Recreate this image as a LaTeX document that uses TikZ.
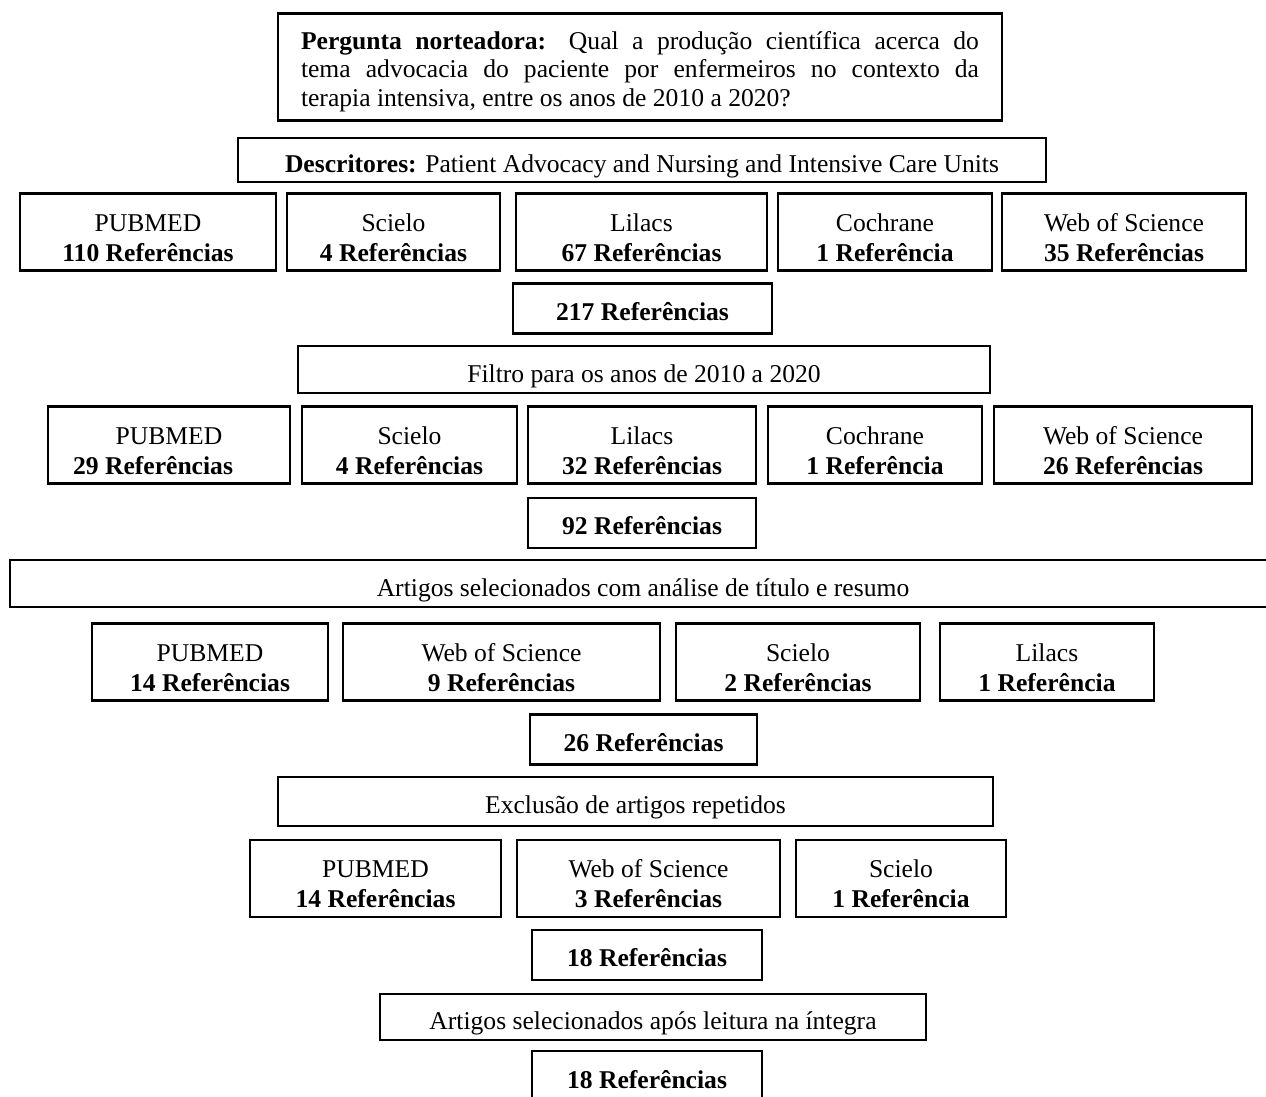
\documentclass[tikz,border=0pt]{standalone}
\usepackage{fontspec}
\setmainfont{Liberation Serif}
\tikzset{
  caixa/.style 2 args={draw, line width=1.2pt, inner sep=0pt, align=center,
    minimum width=#1*0.5pt, minimum height=#2*0.5pt,
    font=\fontsize{12.8}{15}\selectfont},
  fonte/.style={caixa={#1}{77}},
  soma/.style={caixa={#1}{50}, font=\fontsize{12.8}{15}\selectfont\bfseries},
  etapa/.style 2 args={caixa={#1}{#2}},
}
% texto um pouco abaixo do centro da caixa
\newcommand{\duas}[2]{\rule{0pt}{14.5pt}#1\\\textbf{#2}}
\newcommand{\uma}[2][15pt]{\rule{0pt}{#1}#2}

\begin{document}
\begin{tikzpicture}[x=0.5pt, y=-0.5pt]
	\useasboundingbox (0,0) rectangle (1266,1097);

	% pergunta e descritores
	\node[caixa={724}{107}, text width=339pt, align=justify,
		font=\fontsize{12.8}{14.3}\selectfont] (pergunta) at (640,67)
		{\rule{0pt}{13.4pt}\textbf{Pergunta norteadora:} Qual a produção científica acerca do\linebreak
		tema advocacia do paciente por enfermeiros no contexto da\linebreak
		terapia intensiva, entre os anos de 2010 a 2020?};
	\node[etapa={808}{44}] (descritores) at (642,160)
		{\uma[14.8pt]{\textbf{Descritores:} Patient Advocacy and Nursing and Intensive Care Units}};

	% busca inicial
	\node[fonte=256] (pubmedA) at (148,232) {\duas{PUBMED}{110 Referências}};
	\node[fonte=213] (scieloA) at (393.5,232) {\duas{Scielo}{4 Referências}};
	\node[fonte=251] (lilacsA) at (641.5,232) {\duas{Lilacs}{67 Referências}};
	\node[fonte=214] (cochraneA) at (885,232) {\duas{Cochrane}{1 Referência}};
	\node[fonte=244] (wosA) at (1124,232) {\duas{Web of Science}{35 Referências}};
	\node[soma=259] (totalA) at (642.5,308.5) {\uma[12pt]{217 Referências}};

	% filtro por ano
	\node[etapa={692}{47}] (filtro) at (644,369.5) {\uma[15.8pt]{Filtro para os anos de 2010 a 2020}};
	\node[fonte=242] (pubmedB) at (169,445) {\duas{PUBMED}{29 Referências\hspace*{16pt}}};
	\node[fonte=215] (scieloB) at (409.5,445) {\duas{Scielo}{4 Referências}};
	\node[fonte=228] (lilacsB) at (642,445) {\duas{Lilacs}{32 Referências}};
	\node[fonte=214] (cochraneB) at (875,445) {\duas{Cochrane}{1 Referência}};
	\node[fonte=258] (wosB) at (1123,445) {\duas{Web of Science}{26 Referências}};
	\node[soma=228] (totalB) at (642,523) {\uma[12pt]{92 Referências}};

	% titulo e resumo
	\node[etapa={1266}{47}] (titulo) at (643,583.5) {\uma[15.8pt]{Artigos selecionados com análise de título e resumo}};
	\node[fonte=236] (pubmedC) at (210,662) {\duas{PUBMED}{14 Referências}};
	\node[fonte=317] (wosC) at (501.5,662) {\duas{Web of Science}{9 Referências}};
	\node[fonte=244] (scieloC) at (798,662) {\duas{Scielo}{2 Referências}};
	\node[fonte=214] (lilacsC) at (1047,662) {\duas{Lilacs}{1 Referência}};
	\node[soma=227] (totalC) at (643.5,739.5) {\uma[12pt]{26 Referências}};

	% repetidos
	\node[etapa={715}{49}] (exclusao) at (635.5,801.5) {\uma[14.8pt]{Exclusão de artigos repetidos}};
	\node[fonte=251] (pubmedD) at (375.5,878.5) {\duas{PUBMED}{14 Referências}};
	\node[fonte=263] (wosD) at (648.5,878.5) {\duas{Web of Science}{3 Referências}};
	\node[fonte=210] (scieloD) at (901,878.5) {\duas{Scielo}{1 Referência}};
	\node[soma=230] (totalD) at (647,955) {\uma[12pt]{18 Referências}};

	% leitura na integra
	\node[etapa={546}{46}] (integra) at (653,1017) {\uma[14.8pt]{Artigos selecionados após leitura na íntegra}};
	\node[soma=230] (totalE) at (647,1076) {\uma[12.5pt]{18 Referências}};

\end{tikzpicture}
\end{document}
